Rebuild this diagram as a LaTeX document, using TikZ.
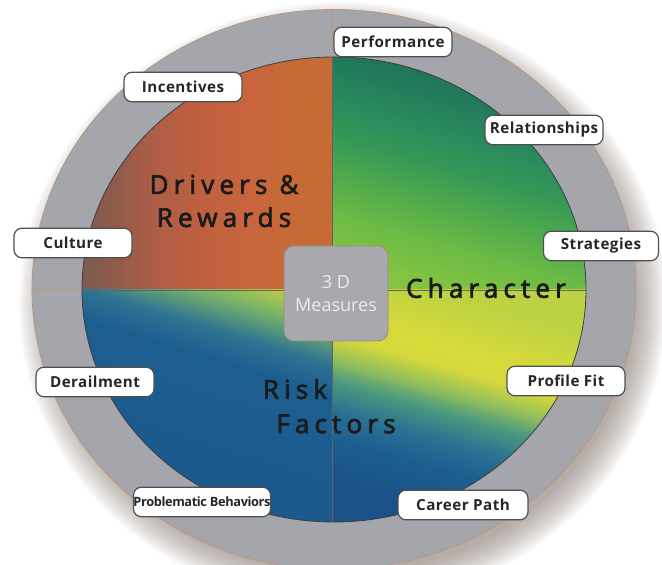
\documentclass[tikz,border=0pt]{standalone}
\usepackage{fontspec}
\setmainfont{Open Sans}
\newfontfamily\tagfont[LetterSpace=3]{Open Sans}
\newfontfamily\bigfont[LetterSpace=20, FakeBold=2.6]{Open Sans}

\definecolor{ringgray}{HTML}{A5A6AB}
\definecolor{ringedge}{HTML}{B8987E}
\definecolor{discedge}{HTML}{3C3C40}
\definecolor{tagline}{HTML}{505050}
\definecolor{boxgray}{HTML}{A8A9AE}
\definecolor{boxedge}{HTML}{9A8A80}
\definecolor{inkdark}{HTML}{1A1A1A}
\definecolor{shadowtint}{HTML}{6B5A50}

% drivers & rewards
\definecolor{drvA}{HTML}{7C5C50}
\definecolor{drvB}{HTML}{8E5B4B}
\definecolor{drvC}{HTML}{AC5D47}
\definecolor{drvD}{HTML}{C0603F}
\definecolor{drvE}{HTML}{C8653C}
\definecolor{drvF}{HTML}{C66B35}
% character
\definecolor{chA}{HTML}{84C341}
\definecolor{chB}{HTML}{6CBB45}
\definecolor{chC}{HTML}{52AB4B}
\definecolor{chD}{HTML}{369956}
\definecolor{chE}{HTML}{2A8C5D}
\definecolor{chF}{HTML}{227A5B}
\definecolor{chG}{HTML}{1E6F58}
% risk, right half
\definecolor{lrA}{HTML}{1A5288}
\definecolor{lrB}{HTML}{1C5E90}
\definecolor{lrC}{HTML}{2A7292}
\definecolor{lrD}{HTML}{4C9A7E}
\definecolor{lrE}{HTML}{8FBE5E}
\definecolor{lrF}{HTML}{D5D73C}
\definecolor{lrG}{HTML}{DADA3A}
\definecolor{lrH}{HTML}{BCD242}
% risk, left half
\definecolor{llA}{HTML}{1A5288}
\definecolor{llB}{HTML}{1D5E90}
\definecolor{llC}{HTML}{2F7392}
\definecolor{llD}{HTML}{78B468}
\definecolor{llE}{HTML}{D2D43E}
\definecolor{llF}{HTML}{D8D83A}

\pgfdeclarehorizontalshading{drivershade}{100bp}{color(0bp)=(drvA); color(25bp)=(drvA);
  color(31bp)=(drvB); color(39bp)=(drvC); color(49bp)=(drvD); color(59bp)=(drvE);
  color(69bp)=(drvF); color(100bp)=(drvF)}
\pgfdeclareverticalshading{charshade}{100bp}{color(0bp)=(chA); color(26bp)=(chA);
  color(34bp)=(chB); color(42bp)=(chC); color(50bp)=(chD); color(57bp)=(chE);
  color(65bp)=(chF); color(74bp)=(chG); color(100bp)=(chG)}
\pgfdeclareverticalshading{pathshade}{100bp}{color(0bp)=(lrA); color(27bp)=(lrA);
  color(36bp)=(lrB); color(42bp)=(lrC); color(48bp)=(lrD); color(52bp)=(lrE);
  color(57bp)=(lrF); color(61bp)=(lrG); color(72bp)=(lrH); color(100bp)=(lrH)}
\pgfdeclareverticalshading{riskshade}{100bp}{color(0bp)=(llA); color(60bp)=(llB);
  color(66bp)=(llC); color(73bp)=(llD); color(80bp)=(llE); color(100bp)=(llF)}

\tikzset{
    tagbox/.style = {draw = tagline, fill = white, line width = .6pt,
        rounded corners = 4pt, minimum width = 59pt, minimum height = 14.8pt,
        inner sep = 0pt, text = black!85,
        font = \tagfont\bfseries\fontsize{7.6}{9}\selectfont},
    midbox/.style = {draw = boxedge, fill = boxgray, line width = .4pt,
        rounded corners = 5pt, minimum width = 52pt, minimum height = 47.5pt,
        inner sep = 0pt, align = center, text = white!92!black,
        font = \fontsize{9}{11.5}\selectfont},
    bigword/.style = {inner sep = 0pt, text = inkdark,
        font = \bigfont\fontsize{13}{16.5}\selectfont},
}

\begin{document}
\begin{tikzpicture}[x = 1pt, y = 1pt, scale = .5]
    \useasboundingbox (0, 0) rectangle (662, 565);
    \clip (0, 0) rectangle (662, 565);

    % soft shadow
    \foreach \r in {0, 2, ..., 32}
        \fill [shadowtint, opacity = .038] (343, 261) ellipse [x radius = 292 + \r, y radius = 270 + \r];

    % ring
    \fill [ringgray] (334, 275.5) ellipse [x radius = 302, y radius = 280];
    \draw [ringedge, line width = .4pt] (334, 275.5) ellipse [x radius = 302, y radius = 280];

    % four quarters
    \begin{scope}
        \clip (334, 275.5) ellipse [x radius = 252, y radius = 232.5];
        \shade [shading = drivershade] (82, 275) rectangle (332, 508);
        \shade [shading = charshade, shading angle = -16] (332, 275) rectangle (586, 508);
        \shade [shading = riskshade, shading angle = -17] (82, 43) rectangle (332, 275);
        \shade [shading = pathshade, shading angle = -16] (332, 43) rectangle (586, 275);
    \end{scope}

    % dividers
    \draw [ringedge, line width = .5pt] (33, 275) -- (82, 275);
    \draw [ringedge, line width = .5pt] (332, 555) -- (332, 508);
    \draw [discedge!80, line width = .45pt] (82, 275) -- (586, 275);
    \draw [discedge!80, line width = .45pt] (332, 508) -- (332, 43);
    \draw [discedge, line width = .4pt] (334, 275.5) ellipse [x radius = 252, y radius = 232.5];

    % quarter names
    \node [bigword, align = center] (drivers) at (224, 364) {Drivers \&\\Rewards};
    \node [bigword] (character) at (486, 277) {Character};
    \node [bigword] (risk) at (295, 176) {Risk};
    \node [bigword] (factors) at (336, 141) {Factors};

    \node [midbox] (measures) at (336, 271.5) {3 D\\Measures};

    % measures round the ring
    \node [tagbox] (perf) at (393, 523) {Performance};
    \node [tagbox] (incent) at (183, 478) {Incentives};
    \node [tagbox] (relat) at (544, 435) {Relationships};
    \node [tagbox, minimum width = 57.5pt] (strat) at (601, 319) {Strategies};
    \node [tagbox] (cult) at (73, 322) {Culture};
    \node [tagbox] (derail) at (95, 183) {Derailment};
    \node [tagbox, minimum width = 68pt,
        font = \tagfont\bfseries\fontsize{6.4}{8}\selectfont\addfontfeature{LetterSpace=-3}] (probl) at (202, 63) {Problematic Behaviors};
    \node [tagbox] (profile) at (566, 184) {Profile Fit};
    \node [tagbox, minimum width = 65pt] (career) at (463, 60) {Career Path};
\end{tikzpicture}
\end{document}
